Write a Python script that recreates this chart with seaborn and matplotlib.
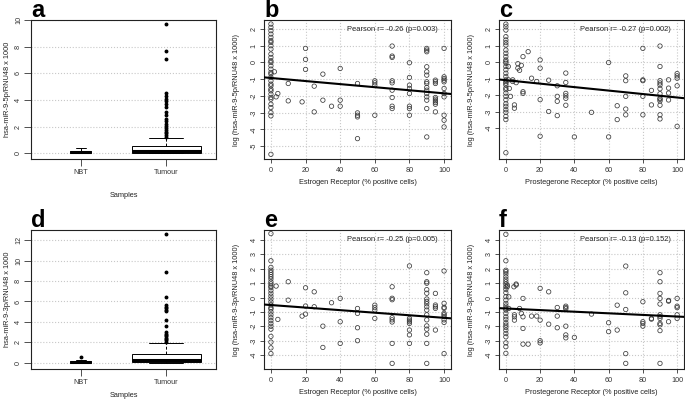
import matplotlib
matplotlib.use("Agg")
import matplotlib.pyplot as plt
import seaborn as sns

sns.set_theme(style="white")
plt.rcParams['font.family'] = ['Liberation Sans', 'DejaVu Sans']

# ---- boxplot panels: [whislo, q1, median, q3, whishi]
a_nbt = [0.0, 0.04, 0.12, 0.20, 0.38]
a_nbt_out = []
a_tumour = [0.0, 0.05, 0.20, 0.55, 1.13]
a_tumour_out = [9.7, 7.7, 7.1, 4.55, 4.3, 4.1, 3.9, 3.7, 3.45, 3.1, 2.85, 2.6,
                2.45, 2.2, 2.05, 1.9, 1.75, 1.6, 1.5, 1.35, 1.25]
d_nbt = [0.0, 0.03, 0.10, 0.20, 0.30]
d_nbt_out = [0.58]
d_tumour = [0.0, 0.13, 0.33, 0.91, 1.92]
d_tumour_out = [12.55, 8.9, 6.45, 5.7, 5.5, 5.35, 5.2, 5.05, 4.2, 3.6, 3.0, 2.85,
                2.7, 2.6, 2.45, 2.3, 2.2, 2.05]
samples = ["NBT", "Tumour"]

# ---- b: miR-9-5p vs estrogen receptor
b_x = [0, 0, 0, 0, 0, 0, 0, 0, 0, 0, 0, 0, 0, 0, 0, 0, 0, 0, 0, 0, 0, 0, 0, 0, 0, 0, 0, 0, 0, 0, 0,
       2, 3, 4, 10, 10, 18, 20, 20, 20, 25, 25, 30, 30, 35, 40, 40, 40,
       50, 50, 50, 50, 50, 60, 60, 60, 60,
       70, 70, 70, 70, 70, 70, 70, 70, 70,
       80, 80, 80, 80, 80, 80, 80, 80,
       90, 90, 90, 90, 90, 90, 90, 90, 90, 90, 90, 90, 90, 90, 90,
       95, 95, 95, 95, 95, 95, 95, 95, 95,
       100, 100, 100, 100, 100, 100, 100, 100, 100, 100, 100]
b_y = [2.3, 2.1, 1.9, 1.7, 1.5, 1.3, 1.2, 1.0, 0.8, 0.5, 0.3, 0.1, 0.0, -0.2, -0.4, -0.6, -0.7,
       -0.9, -1.1, -1.3, -1.4, -1.6, -1.7, -1.9, -2.1, -2.2, -2.5, -2.7, -3.0, -3.2, -5.5,
       -0.56, -2.06, -1.86, -1.26, -2.3, -2.36, 0.84, 0.18, -0.42, -1.42, -2.96, -0.7, -2.26,
       -2.62, -0.36, -2.26, -2.62,
       -1.26, -3.02, -3.16, -3.26, -4.56, -1.1, -1.22, -1.36, -3.16,
       0.98, 0.38, 0.3, -1.1, -1.22, -1.66, -2.1, -2.62, -2.76,
       -0.02, -0.9, -1.36, -1.56, -1.86, -2.62, -2.76, -3.16,
       0.84, 0.74, 0.64, -0.26, -0.56, -0.76, -1.16, -1.26, -1.5, -1.66, -1.86, -2.06, -2.26,
       -2.76, -4.46,
       -1.06, -1.16, -1.26, -2.1, -2.2, -2.3, -2.4, -2.5, -2.96,
       0.84, -0.86, -0.96, -1.06, -1.16, -1.56, -1.86, -2.06, -3.16, -3.46, -3.86]
b_fit = [-0.93, -0.0092]   # intercept, slope

# ---- c: miR-9-5p vs progesterone receptor
c_x = [0, 0, 0, 0, 0, 0, 0, 0, 0, 0, 0, 0, 0, 0, 0, 0, 0, 0, 0, 0, 0, 0, 0, 0, 0, 0, 0, 0, 0, 0, 0, 0, 0,
       1.4, 1.5, 2, 2.7, 4, 4, 5, 5, 6, 7, 7, 8, 9, 10, 10, 10, 13, 15, 18, 20, 20, 20, 20, 25, 25,
       30, 30, 30, 30, 35, 35, 35, 35, 35, 35, 40, 50, 60, 60, 65, 65,
       70, 70, 70, 70, 70, 80, 80, 80, 80, 80, 85, 85,
       90, 90, 90, 90, 90, 90, 90, 90, 90, 90, 90, 90, 90,
       95, 95, 95, 95, 100, 100, 100, 100, 100]
c_y = [2.3, 2.14, 1.94, 1.54, 1.34, 1.18, 1.03, 0.73, 0.53, 0.33, 0.13, 0.03, -0.07, -0.27,
       -0.47, -0.68, -0.88, -1.08, -1.18, -1.28, -1.38, -1.58, -1.68, -1.88, -2.08, -2.29,
       -2.53, -2.69, -2.89, -3.05, -3.29, -3.49, -5.5,
       -0.27, -1.08, -1.6, -2.08, -1.08, -1.18, -2.6, -2.8, -1.25, -0.1, -0.37, -0.5, -0.2,
       0.33, -1.8, -1.9, 0.63, -0.98, -1.18, 0.13, -0.37, -2.28, -4.5, -1.1, -3.0,
       -1.44, -2.08, -2.38, -3.25, -0.67, -1.24, -1.9, -2.05, -2.2, -2.62, -4.54, -3.05,
       -0.03, -4.54, -2.65, -3.49,
       -0.84, -1.13, -2.08, -2.85, -3.2, 0.83, -1.08, -1.13, -2.08, -3.2, -1.72, -2.6,
       0.97, -0.27, -1.13, -1.27, -1.4, -1.62, -1.92, -2.2, -2.26, -2.36, -2.62, -3.2, -3.45,
       -1.08, -1.58, -1.88, -2.3, -0.7, -0.84, -0.98, -1.44, -3.9]
c_fit = [-1.1, -0.0105]

# ---- e: miR-9-3p vs estrogen receptor
e_x = [0, 0, 0, 0, 0, 0, 0, 0, 0, 0, 0, 0, 0, 0, 0, 0, 0, 0, 0, 0, 0, 0, 0, 0, 0, 0, 0, 0, 0, 0, 0,
       3, 4, 10, 10, 18, 20, 20, 20, 25, 25, 30, 30, 35, 40, 40, 40,
       50, 50, 50, 50, 60, 60, 60, 60,
       70, 70, 70, 70, 70, 70, 70, 70,
       80, 80, 80, 80, 80, 80, 80, 80,
       90, 90, 90, 90, 90, 90, 90, 90, 90, 90, 90, 90, 90, 90, 90, 90, 90,
       95, 95, 95, 95, 95,
       100, 100, 100, 100, 100, 100, 100, 100, 100, 100]
e_y = [4.45, 2.56, 2.1, 1.9, 1.75, 1.6, 1.45, 1.3, 1.1, 0.95, 0.8, 0.7, 0.5, 0.3, 0.1, -0.1,
       -0.3, -0.5, -0.7, -0.8, -1.0, -1.2, -1.4, -1.6, -1.8, -2.0, -2.2, -2.7, -3.1, -3.5, -3.9,
       0.8, -1.52, 1.1, -0.18, -1.29, 0.68, -0.59, -1.15, 0.4, -0.64, -1.99, -3.47, -0.36,
       -0.06, -1.68, -3.19,
       -0.76, -1.1, -2.1, -3.0, -0.53, -0.7, -0.87, -1.45,
       0.75, -0.05, -0.15, -1.4, -1.55, -1.7, -3.19, -4.58,
       2.2, -1.45, -1.57, -1.68, -1.8, -2.26, -2.6, -3.19,
       1.73, 1.1, 1.0, 0.55, 0.3, -0.1, -0.27, -0.43, -0.64, -0.87, -1.2, -1.55, -1.97, -2.2,
       -2.55, -3.19, -4.58,
       0.29, -0.52, -0.64, -0.75, -2.26,
       1.85, -0.4, -0.68, -0.75, -1.1, -1.2, -1.32, -1.55, -1.73, -3.9]
e_fit = [-0.52, -0.0089]

# ---- f: miR-9-3p vs progesterone receptor
f_x = [0, 0, 0, 0, 0, 0, 0, 0, 0, 0, 0, 0, 0, 0, 0, 0, 0, 0, 0, 0, 0, 0, 0, 0, 0, 0, 0, 0, 0, 0,
       0.8, 0.8, 1.7, 1.7, 4.7, 5, 5, 5, 6, 6, 8, 9, 10, 10, 10, 10, 13, 15, 18, 20, 20, 20, 20,
       25, 25, 30, 30, 30, 35, 35, 35, 35, 35, 35, 40, 50, 60, 60, 65, 65,
       70, 70, 70, 70, 70, 80, 80, 80, 80, 85, 85,
       90, 90, 90, 90, 90, 90, 90, 90, 90, 90, 90, 90,
       95, 95, 95, 100, 100, 100, 100, 100]
f_y = [4.4, 2.56, 1.9, 1.8, 1.65, 1.45, 1.27, 1.1, 0.94, 0.75, 0.57, 0.34, 0.06, -0.18, -0.41,
       -0.59, -0.76, -0.87, -1.1, -1.34, -1.52, -1.75, -1.92, -2.08, -2.27, -2.5, -2.73, -3.15,
       -3.42, -3.88,
       0.87, 0.75, 0.05, -0.76, 0.75, -1.2, -1.34, -1.57, 0.87, 0.94, -0.76, -1.1, -0.06, -1.34,
       -2.15, -3.24, -3.24, -1.29, -1.29, 0.64, -1.57, -3.0, -3.15,
       0.4, -1.85, -0.69, -1.29, -2.1, -0.6, -0.69, -0.78, -1.99, -2.6, -2.8, -2.77, -1.15,
       -1.75, -2.37, -0.53, -2.26,
       2.19, 0.33, -0.83, -3.9, -4.58, -0.29, -1.68, -1.8, -1.99, -1.45, -1.5,
       1.73, 1.1, 0.29, -0.06, -0.45, -1.2, -1.32, -1.45, -1.8, -1.9, -2.3, -4.58,
       -0.2, -0.25, -1.68, -0.06, -0.6, -0.7, -1.2, -1.45]
f_fit = [-0.76, -0.0056]

pearson = ["Pearson r= -0.26 (p=0.003)", "Pearson r= -0.27 (p=0.002)",
           "Pearson r= -0.25 (p=0.005)", "Pearson r= -0.13 (p=0.152)"]

fig = plt.figure(figsize=(6.85, 4.0), dpi=100)
lefts = [0.0453, 0.3854, 0.7285]
bottoms = [0.6025, 0.0775]
W, H = 0.27, 0.3475


def frame(ax, letter, ticklen):
    for s in ax.spines.values():
        s.set_color("#222222")
        s.set_linewidth(0.8)
    ax.tick_params(axis="both", which="both", length=ticklen, width=0.6, pad=2.5,
                   labelsize=5.2, colors="#333333", direction="out",
                   bottom=True, left=True)
    ax.tick_params(axis="y", labelrotation=90, pad=1.5)
    for lab in ax.get_yticklabels():
        lab.set_va("center")
    ax.text(0, 1.02, letter, transform=ax.transAxes, fontsize=17,
            fontweight="bold", ha="left", va="baseline", color="black")


def box_panel(ax, nbt, nbt_out, tum, tum_out, ylim, yticks, ylabel, letter, xpad):
    stats = []
    for lab, q, out in [(samples[0], nbt, nbt_out), (samples[1], tum, tum_out)]:
        stats.append(dict(label=lab, whislo=q[0], q1=q[1], med=q[2], q3=q[3],
                          whishi=q[4], fliers=out))
    ax.bxp(stats, positions=[1, 2], widths=[0.24, 0.8], capwidths=[0.12, 0.4],
           patch_artist=True,
           boxprops=dict(facecolor="white", edgecolor="black", linewidth=0.7),
           medianprops=dict(color="black", linewidth=2.2),
           whiskerprops=dict(color="black", linewidth=0.7, linestyle=(0, (3, 2))),
           capprops=dict(color="black", linewidth=0.7),
           flierprops=dict(marker="o", markerfacecolor="black",
                           markeredgecolor="black", markersize=1.8, linestyle="none"))
    ax.set_xlim(0.42, 2.58)
    ax.set_ylim(*ylim)
    ax.set_yticks(yticks)
    ax.set_yticklabels([str(t) for t in yticks])
    ax.set_axisbelow(True)
    ax.yaxis.grid(True, color="#c8c8c8", linestyle=":", linewidth=0.8)
    ax.set_xlabel("Samples", fontsize=5.3, labelpad=xpad, color="#222222")
    ax.set_ylabel(ylabel, fontsize=5.3, labelpad=3, color="#222222")
    frame(ax, letter, 5)


def scatter_panel(ax, x, y, fit, text, ylim, yticks, xlabel, ylabel, letter):
    ax.set_axisbelow(True)
    ax.grid(True, color="#c8c8c8", linestyle=":", linewidth=0.8)
    sns.scatterplot(x=x, y=y, ax=ax, marker="o", s=10, facecolor="none",
                    edgecolor="#3a3a3a", linewidth=0.55, zorder=3)
    ax.axline((0, fit[0]), slope=fit[1], color="black", linewidth=1.5, zorder=4)
    ax.set_xlim(-4, 104)
    ax.set_ylim(*ylim)
    ax.set_xticks([0, 20, 40, 60, 80, 100])
    ax.set_yticks(yticks)
    ax.set_yticklabels([str(t) for t in yticks])
    ax.text(0.93, 0.935, text, transform=ax.transAxes, ha="right", va="center",
            fontsize=5.4, color="#222222")
    ax.set_xlabel(xlabel, fontsize=5.3, labelpad=4, color="#222222")
    ax.set_ylabel(ylabel, fontsize=5.3, labelpad=7.5, color="#222222")
    frame(ax, letter, 3)


ax_a = fig.add_axes([lefts[0], bottoms[0], W, H])
box_panel(ax_a, a_nbt, a_nbt_out, a_tumour, a_tumour_out, (-0.43, 10.0),
          [0, 2, 4, 6, 8, 10], "hsa-miR-9-5p/RNU48 x 1000", "a", 11)

ax_d = fig.add_axes([lefts[0], bottoms[1], W, H])
box_panel(ax_d, d_nbt, d_nbt_out, d_tumour, d_tumour_out, (-0.59, 12.98),
          [0, 2, 4, 6, 8, 10, 12], "hsa-miR-9-3p/RNU48 x 1000", "d", 4)

er_label = "Estrogen Receptor (% positive cells)"
pr_label = "Prostegerone Receptor (% positive cells)"

ax_b = fig.add_axes([lefts[1], bottoms[0], W + 0.003, H])
scatter_panel(ax_b, b_x, b_y, b_fit, pearson[0], (-5.78, 2.54),
              [-5, -4, -3, -2, -1, 0, 1, 2], er_label,
              "log (hsa-miR-9-5p/RNU48 x 1000)", "b")

ax_c = fig.add_axes([lefts[2], bottoms[0], W, H])
scatter_panel(ax_c, c_x, c_y, c_fit, pearson[1], (-5.88, 2.55),
              [-4, -3, -2, -1, 0, 1, 2], pr_label,
              "log (hsa-miR-9-5p/RNU48 x 1000)", "c")

ax_e = fig.add_axes([lefts[1], bottoms[1], W + 0.003, H])
scatter_panel(ax_e, e_x, e_y, e_fit, pearson[2], (-4.97, 4.7),
              [-4, -3, -2, -1, 0, 1, 2, 3, 4], er_label,
              "log (hsa-miR-9-3p/RNU48 x 1000)", "e")

ax_f = fig.add_axes([lefts[2], bottoms[1], W, H])
scatter_panel(ax_f, f_x, f_y, f_fit, pearson[3], (-4.97, 4.7),
              [-4, -3, -2, -1, 0, 1, 2, 3, 4], pr_label,
              "log (hsa-miR-9-3p/RNU48 x 1000)", "f")

fig.savefig("out.png", dpi=100, facecolor="white")
